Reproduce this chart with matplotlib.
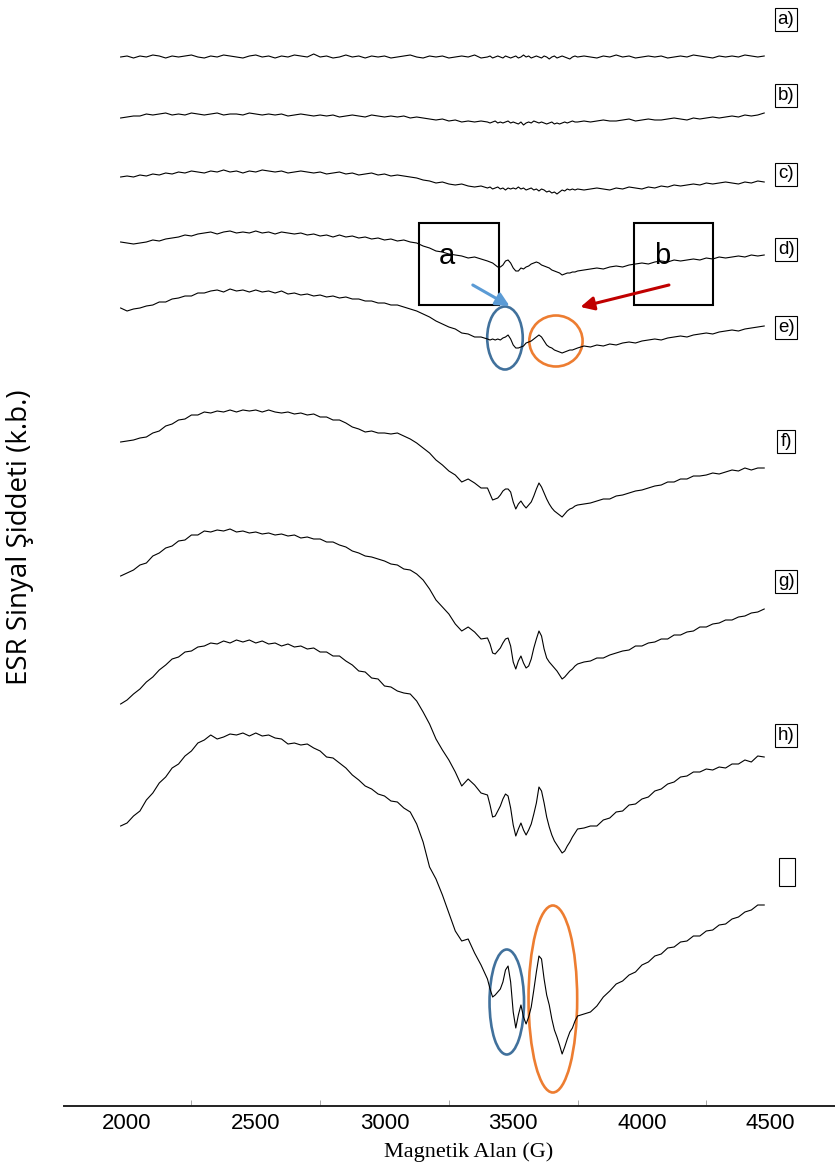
import numpy as np
import matplotlib.pyplot as plt
from matplotlib.patches import Ellipse, Rectangle

# field axis (G): 25 G steps on the wings, 10 G across the hyperfine lines
field = np.concatenate([np.arange(1975, 3376, 25),
                        np.arange(3400, 3751, 10),
                        np.arange(3775, 4476, 25)])

# ESR signal of each sample (arbitrary units), read left to right
sig_a = [0, 1, -1, 1, 0, 2, 1, -1, 1, 0,
         1, 2, 0, -1, 1, 0, 2, 1, 0, -1,
         1, 2, 0, 1, -1, 1, 0, 2, 1, 0,
         3, 0, 1, -1, 0, 2, 0, 1, -1, 1,
         0, 1, -1, 0, 1, 2, 0, -1, 1, 0,
         1, -1, 0, 1, 0, 2, -1,
         0, 1, -1, 0, 1, 0, -1, 1, 0, -1,
         0, 1, -1, 0, 2, 0, 1, -1, 0, 1,
         0, -1, 1, 0, -2, 0, 1, -1, 0, 1,
         0, -1, -2, 0, 1, 0,
         1, 0, -1, 1, 0, 2, 0, 1, -1, 0,
         1, 0, 1, -1, 0, 1, 0, 2, 1, 0,
         -1, 1, 0, 1, 0, 2, 1, 0, 1]

sig_b = [0, 1, 2, 2, 4, 3, 4, 5, 3, 4,
         3, 5, 4, 3, 4, 5, 3, 4, 4, 3,
         5, 4, 3, 4, 3, 4, 2, 3, 4, 3,
         2, 3, 2, 3, 1, 2, 3, 2, 1, 3,
         2, 1, 2, 1, 2, 0, 1, 0, -1, -2,
         -1, -3, -2, -4, -3, -4, -3,
         -4, -5, -4, -3, -5, -4, -5, -4, -3, -5,
         -4, -5, -6, -4, -7, -5, -4, -5, -3, -4,
         -5, -4, -5, -6, -5, -4, -6, -5, -6, -5,
         -4, -5, -4, -3, -4, -4,
         -3, -4, -3, -2, -3, -3, -2, -1, -3, -2,
         -1, -2, -2, -1, 0, -1, -2, 0, -1, 0,
         1, 0, 1, 2, 1, 3, 2, 3, 5]

sig_c = [0, 1, 0, 2, 1, 3, 2, 4, 3, 5,
         4, 6, 5, 4, 6, 5, 7, 5, 6, 4,
         6, 5, 7, 6, 5, 6, 4, 5, 6, 5,
         4, 5, 3, 4, 5, 3, 4, 2, 3, 4,
         2, 3, 1, 2, 1, 0, -1, -3, -4, -6,
         -5, -7, -8, -7, -9, -10, -9,
         -11, -10, -12, -11, -10, -12, -11, -13, -11, -12,
         -11, -12, -10, -12, -11, -13, -12, -11, -13, -12,
         -14, -12, -13, -15, -14, -16, -15, -17, -15, -13,
         -14, -12, -13, -12, -13, -12,
         -13, -12, -11, -12, -13, -11, -12, -10, -11, -12,
         -10, -11, -9, -10, -8, -9, -8, -7, -8, -6,
         -7, -6, -5, -6, -7, -5, -6, -4, -5]

sig_d = [0, -1, -2, -1, 0, 2, 1, 3, 4, 5,
         7, 6, 8, 9, 10, 8, 10, 11, 9, 10,
         9, 11, 9, 10, 8, 10, 9, 8, 9, 7,
         8, 6, 7, 5, 7, 5, 6, 4, 5, 3,
         4, 2, 3, 1, 2, 0, -1, -4, -6, -9,
         -10, -12, -13, -14, -16, -15, -17,
         -19, -20, -21, -23, -25, -25, -23, -19, -18, -21,
         -26, -29, -29, -26, -27, -25, -24, -22, -21, -20,
         -21, -23, -24, -25, -26, -28, -29, -30, -31, -33,
         -32, -31, -31, -30, -30, -29,
         -28, -27, -26, -27, -25, -24, -25, -23, -22, -21,
         -22, -20, -19, -20, -18, -19, -18, -17, -18, -16,
         -17, -15, -16, -15, -14, -15, -13, -14, -13]

sig_e = [0, -3, -1, 0, 2, 3, 6, 6, 9, 10,
         12, 12, 15, 15, 17, 18, 16, 19, 17, 18,
         16, 18, 16, 17, 15, 17, 14, 15, 13, 14,
         12, 13, 11, 12, 10, 11, 9, 9, 7, 7,
         5, 5, 3, 3, 1, -1, -3, -6, -9, -13,
         -16, -19, -21, -25, -26, -29, -29,
         -31, -32, -31, -32, -31, -32, -30, -29, -27, -31,
         -37, -40, -40, -39, -38, -35, -34, -33, -31, -29,
         -27, -29, -33, -37, -39, -40, -42, -43, -44, -45,
         -44, -43, -42, -42, -41, -40,
         -38, -39, -37, -38, -36, -37, -35, -34, -35, -33,
         -32, -31, -32, -30, -29, -28, -29, -27, -26, -25,
         -26, -24, -23, -22, -23, -21, -20, -19, -18]

sig_f = [0, 1, 2, 4, 5, 9, 11, 16, 18, 22,
         23, 27, 27, 30, 29, 31, 30, 32, 30, 32,
         31, 32, 30, 32, 30, 29, 30, 28, 29, 27,
         28, 25, 25, 22, 22, 19, 15, 13, 10, 11,
         9, 9, 8, 9, 6, 3, -1, -6, -11, -18,
         -23, -29, -33, -40, -37, -41, -46,
         -46, -52, -58, -57, -56, -53, -49, -47, -47, -50,
         -60, -67, -62, -59, -63, -66, -63, -60, -54, -47,
         -41, -45, -51, -57, -62, -66, -69, -71, -73, -75,
         -72, -69, -67, -66, -64, -63,
         -62, -61, -59, -57, -57, -54, -53, -51, -49, -48,
         -46, -44, -43, -40, -40, -37, -37, -34, -34, -33,
         -31, -32, -30, -28, -29, -26, -28, -26, -26]

sig_g = [0, 3, 6, 11, 13, 20, 23, 28, 30, 35,
         36, 41, 41, 45, 44, 46, 45, 47, 44, 45,
         43, 44, 42, 43, 41, 42, 40, 41, 38, 39,
         37, 37, 34, 34, 31, 29, 25, 23, 20, 19,
         17, 15, 12, 11, 7, 6, 2, -4, -13, -24,
         -31, -38, -48, -55, -51, -56, -63,
         -62, -68, -77, -78, -75, -72, -67, -63, -62, -70,
         -86, -93, -85, -80, -87, -92, -90, -83, -72, -63,
         -55, -60, -73, -82, -86, -89, -92, -95, -99, -103,
         -101, -98, -95, -93, -90, -88,
         -86, -85, -82, -82, -79, -77, -75, -74, -70, -70,
         -67, -66, -63, -63, -59, -59, -56, -55, -51, -51,
         -48, -47, -44, -44, -41, -40, -37, -36, -33]

sig_h = [1, 5, 11, 16, 23, 28, 35, 40, 46, 48,
         53, 54, 58, 59, 62, 61, 64, 62, 65, 63,
         65, 62, 64, 61, 62, 59, 61, 58, 59, 56,
         57, 53, 53, 49, 49, 44, 40, 34, 33, 27,
         26, 19, 18, 14, 12, 11, 4, -7, -19, -34,
         -45, -55, -67, -81, -74, -80, -88,
         -90, -100, -112, -111, -106, -101, -94, -89, -91, -103,
         -120, -131, -124, -118, -125, -130, -125, -119, -109, -98,
         -82, -86, -98, -112, -122, -130, -136, -140, -144, -148,
         -146, -141, -137, -132, -128, -124,
         -123, -121, -121, -115, -113, -107, -106, -100, -99, -94,
         -92, -86, -84, -79, -77, -72, -71, -67, -67, -64,
         -65, -62, -63, -59, -59, -55, -57, -51, -52]

sig_i = [1, 4, 11, 16, 27, 34, 44, 50, 59, 63,
         71, 76, 84, 87, 92, 88, 90, 93, 92, 94,
         91, 94, 91, 92, 89, 88, 83, 84, 82, 83,
         79, 76, 70, 69, 64, 59, 52, 47, 41, 38,
         33, 31, 26, 25, 19, 15, 3, -15, -40, -52,
         -68, -86, -104, -114, -112, -126, -138,
         -152, -162, -170, -168, -165, -162, -155, -143, -139, -155,
         -185, -201, -188, -178, -190, -197, -190, -180, -163, -145,
         -129, -132, -152, -168, -178, -192, -203, -210, -218, -227,
         -220, -212, -205, -201, -194, -189,
         -187, -185, -179, -170, -164, -157, -154, -148, -145, -138,
         -135, -129, -127, -121, -120, -115, -114, -109, -109, -104,
         -103, -98, -97, -92, -90, -85, -83, -78, -78]

spectra = [sig_a, sig_b, sig_c, sig_d, sig_e, sig_f, sig_g, sig_h, sig_i]
labels = ["a)", "b)", "c)", "d)", "e)", "f)", "g)", "h)"]
# vertical stacking of the spectra
offsets = [1049, 988, 929, 864, 798, 664, 530, 401, 279]
label_y = [1087, 1011, 932, 857, 779, 665, 525, 371]

narrow = ["Liberation Sans Narrow", "Liberation Sans", "DejaVu Sans"]

fig = plt.figure(figsize=(8.35, 11.71), dpi=100)
ax = fig.add_axes([64 / 835, 65 / 1171, 771 / 835, 1106 / 1171])

for sig, off in zip(spectra, offsets):
    ax.plot(field, np.array(sig) + off, color="black", lw=0.8)

for lab, y in zip(labels, label_y):
    ax.text(4560, y, lab, ha="center", va="center", fontsize=13.5,
            family=narrow,
            bbox=dict(boxstyle="square,pad=0.16", fc="white", ec="black", lw=0.8))
# last sample label box (empty)
ax.add_patch(Rectangle((4531, 220), 62, 28, fill=False, ec="black", lw=0.8))

# boxes marking the two signal groups
for x0, dx, letter in [(3134, 110, "a"), (3968, 110, "b")]:
    ax.add_patch(Rectangle((x0, 801), 310, 82, fill=False, ec="black", lw=1.5))
    ax.text(x0 + dx, 850, letter, ha="center", va="center", fontsize=21,
            family=["Liberation Sans", "DejaVu Sans"])

ax.annotate("", xy=(3486, 800), xytext=(3343, 821),
            arrowprops=dict(arrowstyle="-|>", color="#5b9bd5", lw=2.2,
                            mutation_scale=20, shrinkA=0, shrinkB=0))
ax.annotate("", xy=(3761, 799), xytext=(4105, 821),
            arrowprops=dict(arrowstyle="-|>", color="#c00000", lw=2.2,
                            mutation_scale=20, shrinkA=0, shrinkB=0))

blue, orange = "#41719c", "#ed7d31"
ax.add_patch(Ellipse((3468, 768), 138, 63, fill=False, ec=blue, lw=1.9))
ax.add_patch(Ellipse((3666, 765), 207, 51, fill=False, ec=orange, lw=1.9))
ax.add_patch(Ellipse((3475, 104), 134, 105, fill=False, ec=blue, lw=1.9))
ax.add_patch(Ellipse((3654, 107), 189, 187, fill=False, ec=orange, lw=1.9))

ax.set_xlim(1755, 4706)
ax.set_ylim(0, 1106)
ax.set_yticks([])
for side in ["left", "right", "top"]:
    ax.spines[side].set_visible(False)
ax.spines["bottom"].set_linewidth(1.4)
ax.spines["bottom"].set_color("#222222")

ax.set_xticks(np.arange(2000, 4501, 500))
ax.set_xticks(np.arange(2250, 4751, 500), minor=True)
ax.tick_params(axis="x", which="major", length=0, pad=5, labelsize=16)
ax.tick_params(axis="x", which="minor", direction="in", length=4, color="#999999")
for t in ax.get_xticklabels():
    t.set_family(narrow)

fig.text(469 / 835, 1 - 1152 / 1171, "Magnetik Alan (G)", ha="center", va="center",
         fontsize=16, family=["Liberation Serif", "DejaVu Serif"])
fig.text(20 / 835, 1 - 537 / 1171, "ESR Sinyal Şiddeti (k.b.)", rotation=90,
         ha="center", va="center", fontsize=20, family=["Open Sans", "DejaVu Sans"])

fig.savefig("out.png", dpi=100)
